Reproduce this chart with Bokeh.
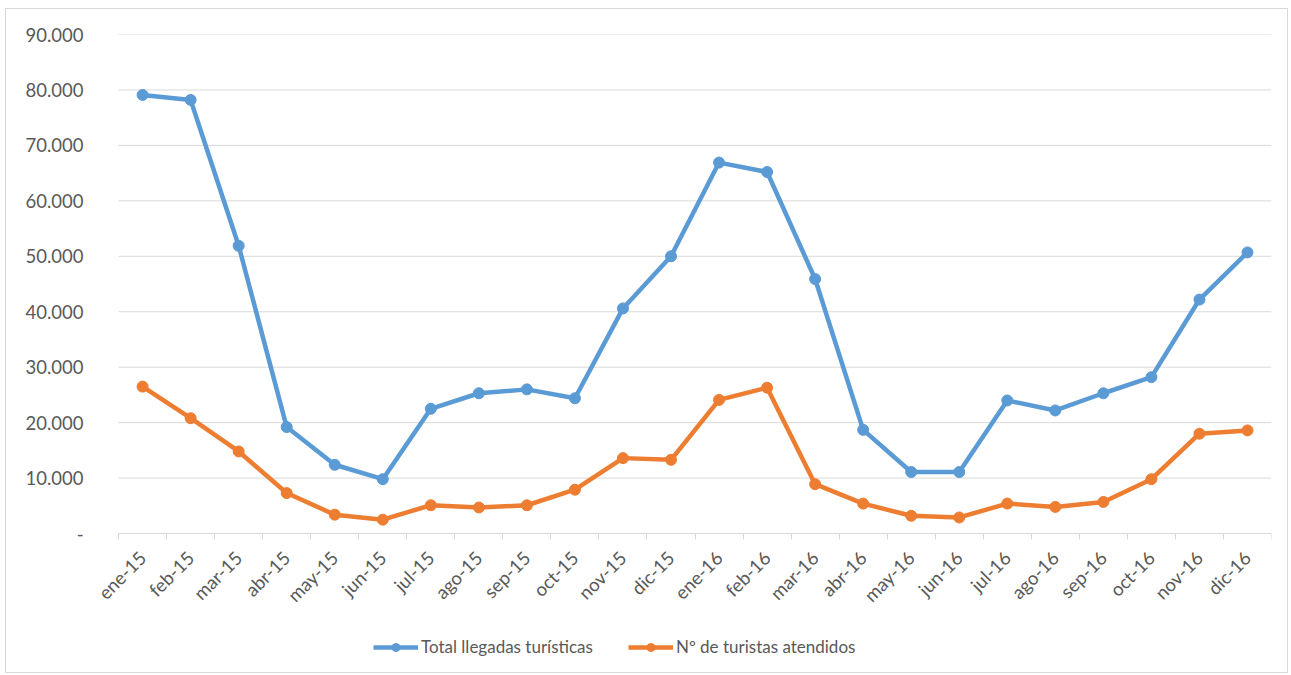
from bokeh.plotting import figure
from bokeh.models import Range1d, FixedTicker, Legend, LegendItem
from bokeh.embed import file_html
from bokeh.resources import INLINE
import math

months = ["ene-15", "feb-15", "mar-15", "abr-15", "may-15", "jun-15",
          "jul-15", "ago-15", "sep-15", "oct-15", "nov-15", "dic-15",
          "ene-16", "feb-16", "mar-16", "abr-16", "may-16", "jun-16",
          "jul-16", "ago-16", "sep-16", "oct-16", "nov-16", "dic-16"]

total_llegadas = [79100, 78200, 51900, 19200, 12400, 9800,
                  22500, 25300, 26000, 24400, 40600, 50000,
                  66900, 65200, 45900, 18700, 11100, 11100,
                  24000, 22200, 25300, 28200, 42200, 50700]

turistas_atendidos = [26500, 20800, 14800, 7300, 3400, 2500,
                      5100, 4700, 5100, 7900, 13600, 13300,
                      24100, 26300, 8900, 5400, 3200, 2900,
                      5400, 4800, 5700, 9800, 18000, 18600]

y_ticks = [0, 10000, 20000, 30000, 40000, 50000, 60000, 70000, 80000, 90000]
y_tick_labels = ["-", "10.000", "20.000", "30.000", "40.000", "50.000",
                 "60.000", "70.000", "80.000", "90.000"]

series_names = ["Total llegadas turísticas", "Nº de turistas atendidos"]
series_colors = ["#5B9BD5", "#ED7D31"]

FONT = "Lato"
TXT = "#595959"
GRID = "#d9d9d9"

n = len(months)
xs = list(range(n))
x_lo, x_hi = -0.5, n - 0.5

# frame extends below zero (and a little left) so that the x axis labels
# and the legend sit inside it without being clipped
p = figure(width=1283, height=665, output_backend="svg", toolbar_location=None,
           x_range=Range1d(-1.126, x_hi), y_range=Range1d(-23800, 90000),
           min_border_left=82, min_border_right=18, min_border_top=25,
           min_border_bottom=9)
p.styles = {"border": "1px solid #d9d9d9", "margin-left": "5px", "margin-top": "8px"}
p.outline_line_color = None
p.background_fill_color = "white"
p.border_fill_color = "white"

# horizontal gridlines limited to the category area
p.xgrid.visible = False
p.ygrid.visible = False
p.segment(x0=[x_lo] * len(y_ticks), x1=[x_hi] * len(y_ticks), y0=y_ticks, y1=y_ticks,
          line_color=GRID, line_width=1, level="underlay")

# x axis, pinned at y = 0
p.xaxis.fixed_location = 0
p.xaxis.bounds = (x_lo, x_hi)
p.xaxis.ticker = FixedTicker(ticks=xs, minor_ticks=[i - 0.5 for i in range(n + 1)])
p.xaxis.major_label_overrides = {i: m for i, m in zip(xs, months)}
p.xaxis.major_label_orientation = math.pi / 4
p.xaxis.major_tick_line_color = None
p.xaxis.major_tick_out = 0
p.xaxis.major_tick_in = 0
p.xaxis.minor_tick_line_color = GRID
p.xaxis.minor_tick_out = 6
p.xaxis.minor_tick_in = 0
p.xaxis.axis_line_color = GRID
p.xaxis.major_label_text_font = FONT
p.xaxis.major_label_text_font_size = "18.5px"
p.xaxis.major_label_text_color = TXT
p.xaxis.major_label_standoff = 15

# y axis
p.yaxis.ticker = FixedTicker(ticks=y_ticks)
p.yaxis.major_label_overrides = {t: l for t, l in zip(y_ticks, y_tick_labels)}
p.yaxis.axis_line_color = None
p.yaxis.major_tick_line_color = None
p.yaxis.minor_tick_line_color = None
p.yaxis.major_tick_out = 0
p.yaxis.major_tick_in = 0
p.yaxis.major_label_text_font = FONT
p.yaxis.major_label_text_font_size = "18.5px"
p.yaxis.major_label_text_color = TXT
p.yaxis.major_label_standoff = 5

items = []
for name, vals, col in zip(series_names, [total_llegadas, turistas_atendidos], series_colors):
    ln = p.line(xs, vals, line_color=col, line_width=4.5)
    sc = p.scatter(xs, vals, marker="circle", size=11, fill_color=col, line_color=col)
    items.append(LegendItem(label=name, renderers=[ln, sc]))

legend = Legend(items=items, orientation="horizontal", location=(285, 8),
                padding=0, margin=0, spacing=35, glyph_width=45, glyph_height=20,
                label_standoff=3, border_line_color=None, background_fill_alpha=0,
                label_text_font=FONT, label_text_font_size="17px",
                label_text_color=TXT)
p.add_layout(legend, "center")

open("out.html", "w").write(file_html(p, INLINE))
